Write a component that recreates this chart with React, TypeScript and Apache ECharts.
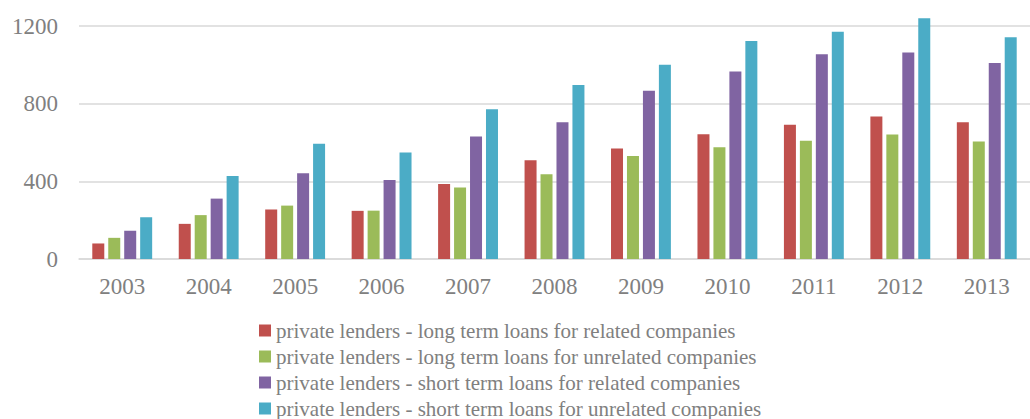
import React, { useEffect, useRef } from "react";
import * as echarts from "echarts";

const categories = ["2003", "2004", "2005", "2006", "2007", "2008", "2009", "2010", "2011", "2012", "2013"];
const longRelated = [80, 181, 255, 248, 386, 508, 569, 643, 691, 734, 704];
const longUnrelated = [109, 226, 275, 249, 368, 436, 530, 575, 609, 641, 605];
const shortRelated = [145, 311, 441, 407, 631, 704, 867, 966, 1055, 1063, 1009];
const shortUnrelated = [215, 427, 593, 549, 771, 896, 1000, 1123, 1171, 1240, 1142];
const seriesNames = [
  "private lenders - long term loans for related companies",
  "private lenders - long term loans for unrelated companies",
  "private lenders - short term loans for related companies",
  "private lenders - short term loans for unrelated companies",
];
const colors = ["#C0504D", "#9BBB59", "#8064A2", "#4BACC6"];

export default function App() {
  const ref = useRef<HTMLDivElement>(null);
  useEffect(() => {
    if (!ref.current) return;
    const chart = echarts.init(ref.current, null, { renderer: "svg" });
    const font = "Liberation Serif, Times New Roman, serif";
    const data = [longRelated, longUnrelated, shortRelated, shortUnrelated];
    chart.setOption({
      animation: false,
      color: colors,
      textStyle: { fontFamily: font },
      grid: { left: 79, top: 26, bottom: 160, right: -14, containLabel: false },
      xAxis: {
        type: "category",
        data: categories,
        axisLine: { show: true, lineStyle: { color: "#d9d9d9", width: 1.5 } },
        axisTick: { show: false },
        axisLabel: { color: "#808080", fontFamily: font, fontSize: 23, margin: 16 },
      },
      yAxis: {
        type: "value",
        min: 0,
        max: 1200,
        interval: 400,
        axisLine: { show: false },
        axisTick: { show: false },
        splitLine: { lineStyle: { color: "#d9d9d9", width: 1.5 } },
        axisLabel: {
          color: "#808080",
          fontFamily: font,
          fontSize: 23,
          margin: 21,
          formatter: (v: number) => String(v),
        },
      },
      legend: {
        orient: "vertical",
        left: 259,
        top: 320,
        padding: 0,
        itemWidth: 12,
        itemHeight: 12,
        itemGap: 5,
        icon: "rect",
        textStyle: { color: "#808080", fontFamily: font, fontSize: 21 },
        data: seriesNames,
      },
      series: seriesNames.map((name, i) => ({
        name,
        type: "bar",
        data: data[i],
        barWidth: 12,
        barGap: "33%",
        clip: false,
        itemStyle: { color: colors[i] },
      })),
    });
    return () => chart.dispose();
  }, []);
  return (
    <div
      ref={ref}
      style={{ position: "fixed", left: 0, top: 0, width: 1030, height: 419, background: "#fff" }}
    />
  );
}
